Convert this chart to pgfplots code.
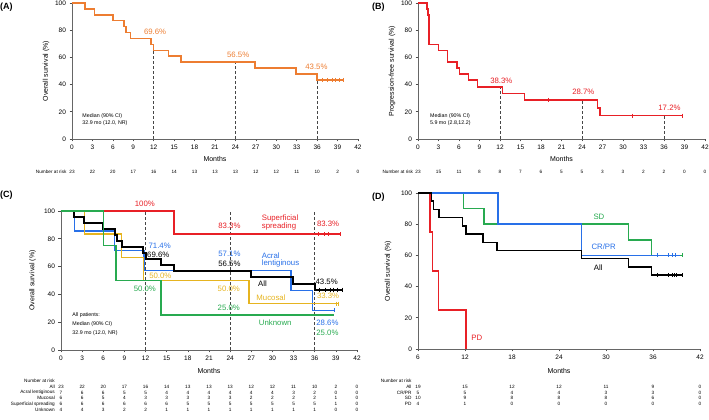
\documentclass[border=0pt]{standalone}
\usepackage{fontspec}
\setmainfont{Liberation Sans}
\usepackage{pgfplots}
\pgfplotsset{compat=1.18}
\definecolor{cOrange}{RGB}{237,125,49}
\definecolor{cRed}{RGB}{232,32,38}
\definecolor{cBlue}{RGB}{40,112,232}
\definecolor{cGold}{RGB}{230,180,32}
\definecolor{cGreen}{RGB}{40,170,80}
\definecolor{cDash}{RGB}{70,70,70}
\newcommand\pctf{\fontsize{7.8}{8.5}\selectfont}
\newcommand\smf{\fontsize{5.3}{6.3}\selectfont}
\newcommand\riskf{\fontsize{4.7}{5}\selectfont}
\newcommand\panelf{\fontsize{9}{10}\selectfont\bfseries}
\newcommand\labf{\fontsize{7}{8}\selectfont}
\pgfplotsset{
 km/.style={
  scale only axis,
  axis lines=left,
  axis line style={-, line width=0.7pt, black!60},
  ymin=0, ymax=100, ytick={0,20,...,100},
  tick align=outside,
  major tick length=2.5pt,
  tick style={line width=0.6pt, black!70},
  tick label style={font=\fontsize{6.5}{7}\selectfont},
  /pgf/number format/assume math mode=true,
  clip=false,
  xlabel={Months},
 },
 step/.style={const plot, line width=1.5pt, mark=none},
 cens/.style={only marks, mark=|, mark size=2pt, mark options={line width=0.6pt}},
 dline/.style={cDash, densely dashed, line width=0.45pt, mark=none},
}
\begin{document}
\begin{tikzpicture}[x=1pt,y=1pt]
\useasboundingbox (0,0) rectangle (709,420);
% ---------------- (A)
\begin{axis}[km, at={(72pt,281pt)}, anchor=south west, width=286pt, height=136pt,
  xmin=0, xmax=42, xtick={0,3,...,42},
  ylabel={Overall survival (\%)},
  every axis y label/.style={at={(axis description cs:-0.091,0.5)}, anchor=center, rotate=90, font=\labf},
  every axis x label/.style={at={(axis description cs:0.5,-0.149)}, anchor=center, font=\labf}]
\addplot[dline] coordinates {(12,0)(12,65.22)};
\addplot[dline] coordinates {(24,0)(24,56.52)};
\addplot[dline] coordinates {(36,0)(36,43.48)};
\addplot[step, cOrange] coordinates {(0,100)(1.9,95.65)(3.3,91.30)(6.0,86.96)(7.6,82.61)(7.9,78.26)(8.6,73.91)(11.6,69.57)(12.0,65.22)(14.2,60.87)(16.0,56.52)(26.9,52.17)(32.9,47.83)(36.0,43.48)(39.9,43.48)};
\addplot[cens, cOrange] coordinates {(36.7,43.48)(37.5,43.48)(38.2,43.48)(38.7,43.48)(39.2,43.48)(39.9,43.48)};
\node[text=cOrange, font=\pctf] at (axis cs:12.2,79) {69.6\%};
\node[text=cOrange, font=\pctf] at (axis cs:24.4,62) {56.5\%};
\node[text=cOrange, font=\pctf] at (axis cs:35.9,53) {43.5\%};
\node[anchor=west, font=\smf, inner sep=0] at (axis cs:1.5,17) {Median (90\% CI)};
\node[anchor=west, font=\smf, inner sep=0] at (axis cs:1.5,12) {32.9 mo (12.0, NR)};
\end{axis}
% ---------------- (B)
\begin{axis}[km, at={(418pt,281pt)}, anchor=south west, width=287pt, height=136pt,
  xmin=0, xmax=42, xtick={0,3,...,42},
  ylabel={Progression-free survival (\%)},
  every axis y label/.style={at={(axis description cs:-0.0906,0.5)}, anchor=center, rotate=90, font=\labf},
  every axis x label/.style={at={(axis description cs:0.5,-0.149)}, anchor=center, font=\labf}]
\addplot[dline] coordinates {(12,0)(12,38.26)};
\addplot[dline] coordinates {(24,0)(24,28.70)};
\addplot[dline] coordinates {(36,0)(36,17.22)};
\addplot[step, cRed] coordinates {(0,100)(1.3,95.65)(1.45,91.30)(1.6,69.57)(3.0,65.22)(4.3,56.52)(5.7,52.17)(6.05,47.83)(7.4,43.48)(8.7,38.26)(12.4,33.48)(15.6,28.70)(26.3,22.96)(26.6,17.22)(38.7,17.22)};
\addplot[cens, cRed] coordinates {(19.0,28.70)(31.3,17.22)(38.7,17.22)};
\node[text=cRed, font=\pctf] at (axis cs:12.2,43) {38.3\%};
\node[text=cRed, font=\pctf] at (axis cs:24.2,35) {28.7\%};
\node[text=cRed, font=\pctf] at (axis cs:36.8,23) {17.2\%};
\node[anchor=west, font=\smf, inner sep=0] at (axis cs:1.75,17) {Median (90\% CI)};
\node[anchor=west, font=\smf, inner sep=0] at (axis cs:1.75,11.8) {5.9 mo (2.8,12.2)};
\end{axis}
% ---------------- (C)
\begin{axis}[km, at={(61pt,70pt)}, anchor=south west, width=296pt, height=139pt,
  xmin=0, xmax=42, xtick={0,3,...,42},
  ylabel={Overall survival (\%)},
  every axis y label/.style={at={(axis description cs:-0.0957,0.5)}, anchor=center, rotate=90, font=\labf},
  every axis x label/.style={at={(axis description cs:0.5,-0.149)}, anchor=center, font=\labf}]
\addplot[dline] coordinates {(12,0)(12,100)};
\addplot[dline] coordinates {(24,0)(24,100)};
\addplot[dline] coordinates {(36,0)(36,100)};
\addplot[step, cRed] coordinates {(0,100)(16.0,83.33)(39.6,83.33)};
\addplot[cens, cRed] coordinates {(36.5,83.33)(37.3,83.33)(37.9,83.33)(39.6,83.33)};
\addplot[step, cBlue] coordinates {(0,100)(1.9,85.71)(7.6,71.43)(11.8,57.14)(32.6,42.86)(35.7,28.57)(38.8,28.57)};
\addplot[cens, cBlue] coordinates {(38.8,28.57)};
\addplot[step, cGold] coordinates {(0,100)(3.3,83.33)(8.6,66.67)(11.7,50.0)(26.7,33.33)(39.4,33.33)};
\addplot[cens, cGold] coordinates {(39.0,33.33)(39.4,33.33)};
\addplot[step, black, line width=2pt] coordinates {(0,100)(1.9,95.65)(3.3,91.30)(6.0,86.96)(7.6,82.61)(7.9,78.26)(8.6,73.91)(11.6,69.57)(12.0,65.22)(14.2,60.87)(16.0,56.52)(26.9,52.17)(32.9,47.83)(36.0,43.48)(39.9,43.48)};
\addplot[cens, black] coordinates {(36.7,43.48)(37.5,43.48)(38.2,43.48)(38.7,43.48)(39.2,43.48)(39.9,43.48)};
\addplot[step, cGreen] coordinates {(0,100)(6.0,75)(7.8,50)(14.2,25)(38.8,25)};
\node[text=cRed, font=\pctf] at (axis cs:11.9,105) {100\%};
\node[text=cRed, font=\pctf, anchor=west] at (axis cs:28.0,94.7) {Superficial};
\node[text=cRed, font=\pctf, anchor=west] at (axis cs:28.0,88.7) {spreading};
\node[text=cRed, font=\pctf] at (axis cs:23.9,89.4) {83.3\%};
\node[text=cRed, font=\pctf] at (axis cs:37.9,90.6) {83.3\%};
\node[text=cBlue, font=\pctf] at (axis cs:14.0,75.3) {71.4\%};
\node[text=black, font=\pctf] at (axis cs:13.8,68.6) {69.6\%};
\node[text=cBlue, font=\pctf] at (axis cs:23.9,69.3) {57.1\%};
\node[text=black, font=\pctf] at (axis cs:23.9,62.1) {56.5\%};
\node[text=cBlue, font=\pctf, anchor=west] at (axis cs:28.0,67.9) {Acral};
\node[text=cBlue, font=\pctf, anchor=west] at (axis cs:28.0,62.1) {lentiginous};
\node[text=cGold, font=\pctf] at (axis cs:14.1,53.2) {50.0\%};
\node[text=cGreen, font=\pctf] at (axis cs:11.9,43.9) {50.0\%};
\node[text=black, font=\pctf] at (axis cs:28.6,47.5) {All};
\node[text=black, font=\pctf] at (axis cs:37.7,48.7) {43.5\%};
\node[text=cGold, font=\pctf] at (axis cs:23.8,43.9) {50.0\%};
\node[text=cGold, font=\pctf] at (axis cs:29.8,37.6) {Mucosal};
\node[text=cGold, font=\pctf] at (axis cs:37.9,39.1) {33.3\%};
\node[text=cGreen, font=\pctf] at (axis cs:23.8,30.5) {25.0\%};
\node[text=cGreen, font=\pctf] at (axis cs:30.4,19.9) {Unknown};
\node[text=cBlue, font=\pctf] at (axis cs:37.8,19.9) {28.6\%};
\node[text=cGreen, font=\pctf] at (axis cs:37.8,12.7) {25.0\%};
\node[anchor=west, font=\smf, inner sep=0] at (axis cs:1.6,25) {All patients:};
\node[anchor=west, font=\smf, inner sep=0] at (axis cs:1.6,18.7) {Median (90\% CI)};
\node[anchor=west, font=\smf, inner sep=0] at (axis cs:1.6,12.4) {32.9 mo (12.0, NR)};
\end{axis}
% ---------------- (D)
\begin{axis}[km, at={(418pt,71pt)}, anchor=south west, width=282pt, height=156pt,
  xmin=6, xmax=42, xtick={6,12,...,42},
  ylabel={Overall survival (\%)},
  every axis y label/.style={at={(axis description cs:-0.106,0.5)}, anchor=center, rotate=90, font=\labf},
  every axis x label/.style={at={(axis description cs:0.5,-0.139)}, anchor=center, font=\labf}]
\addplot[step, cRed] coordinates {(6,100)(7.5,75)(7.85,50)(8.6,25)(12.1,0)};
\addplot[step, cGreen] coordinates {(6,100)(11.8,90)(14.4,80)(32.9,70)(35.8,60)(39.7,60)};
\addplot[cens, cGreen] coordinates {(39.7,60)};
\addplot[step, cBlue] coordinates {(6,100)(16.2,80)(26.9,60)(39.4,60)};
\addplot[cens, cBlue] coordinates {(36.6,60)(38.0,60)(38.5,60)(38.8,60)};
\addplot[step, black] coordinates {(6,100)(7.7,94.74)(8.0,89.47)(8.7,84.21)(11.7,78.95)(12.1,73.68)(14.3,68.42)(16.1,63.16)(26.9,57.89)(32.9,52.63)(35.8,47.37)(39.7,47.37)};
\addplot[cens, black] coordinates {(36.5,47.37)(38.0,47.37)(38.4,47.37)(38.7,47.37)(38.95,47.37)(39.7,47.37)};
\node[text=cGreen, font=\pctf] at (axis cs:29.1,85) {SD};
\node[text=cBlue, font=\pctf] at (axis cs:29.7,65.6) {CR/PR};
\node[text=black, font=\pctf] at (axis cs:29.0,51.9) {All};
\node[text=cRed, font=\pctf] at (axis cs:13.5,7) {PD};
\end{axis}
% ---------------- panel labels
\node[font=\panelf, anchor=west, inner sep=0] at (0,413) {(A)};
\node[font=\panelf, anchor=west, inner sep=0] at (372,413) {(B)};
\node[font=\panelf, anchor=west, inner sep=0] at (0,225) {(C)};
\node[font=\panelf, anchor=west, inner sep=0] at (372,223.3) {(D)};
% ---------------- numbers at risk (A)
\node[font=\riskf, anchor=east, inner sep=0] at (66.7,248.3) {Number at risk};
\foreach \n [count=\i from 0] in {23,22,20,17,16,14,13,13,13,12,12,11,10,2,0}
  \node[font=\riskf, inner sep=0] at ({72+3*\i*286/42},248.3) {\n};
% ---------------- numbers at risk (B)
\node[font=\riskf, anchor=east, inner sep=0] at (413.3,248.3) {Number at risk};
\foreach \n [count=\i from 0] in {23,15,11,8,8,7,6,5,5,3,3,2,2,0,0}
  \node[font=\riskf, inner sep=0] at ({418+3*\i*287/42},248.3) {\n};
% ---------------- numbers at risk (C)
\node[font=\riskf, anchor=east, inner sep=0] at (55,39.3) {Number at risk};
\foreach \lab/\row/\yy in {{All}/{23,22,20,17,16,14,13,13,13,12,12,11,10,2,0}/33,
   {Acral lentiginous}/{7,6,6,5,5,4,4,4,4,4,4,3,2,0,0}/27.3,
   {Mucosal}/{6,6,5,4,3,3,3,3,3,2,2,2,2,1,0}/21.7,
   {Superficial spreading}/{6,6,6,6,6,6,5,5,5,5,5,5,5,1,0}/16,
   {Unknown}/{4,4,3,2,2,1,1,1,1,1,1,1,1,0,0}/10.3}{
  \node[font=\riskf, anchor=east, inner sep=0] at (55,\yy) {\lab};
  \foreach \n [count=\i from 0] in \row
    \node[font=\riskf, inner sep=0] at ({61+3*\i*296/42},\yy) {\n};
}
% ---------------- numbers at risk (D)
\node[font=\riskf, anchor=east, inner sep=0] at (411.7,39.3) {Number at risk};
\foreach \lab/\row/\yy in {{All}/{19,15,12,12,11,9,0}/33,
   {CR/PR}/{5,5,4,4,3,3,0}/27.3,
   {SD}/{10,9,8,8,8,6,0}/21.7,
   {PD}/{4,1,0,0,0,0,0}/16}{
  \node[font=\riskf, anchor=east, inner sep=0] at (411.7,\yy) {\lab};
  \foreach \n [count=\i from 0] in \row
    \node[font=\riskf, inner sep=0] at ({418+6*\i*282/36},\yy) {\n};
}
\end{tikzpicture}
\end{document}
